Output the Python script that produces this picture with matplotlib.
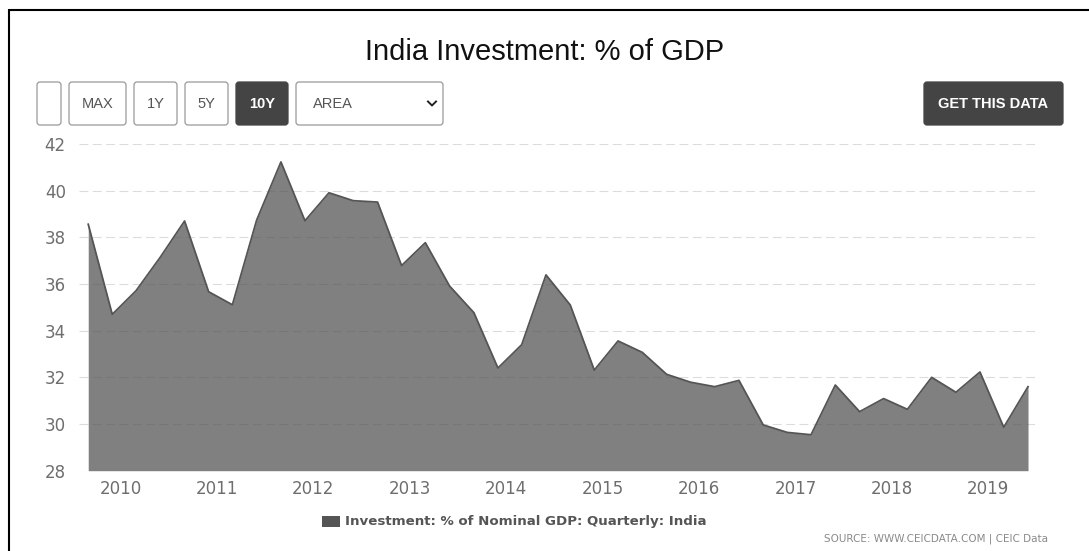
import datetime as dt

import matplotlib
matplotlib.use("Agg")
import matplotlib.pyplot as plt
import matplotlib.dates as mdates
from matplotlib.patches import FancyBboxPatch, Rectangle
import pandas as pd

# Quarterly investment share of nominal GDP, India (Sep 2009 - Jun 2019)
quarters = pd.date_range("2009-09-01", periods=40, freq="3MS")
investment_pct = [
    38.56, 34.70, 35.71, 37.15, 38.70, 35.67, 35.11, 38.74,
    41.23, 38.71, 39.91, 39.57, 39.51, 36.79, 37.77, 35.91,
    34.77, 32.40, 33.40, 36.39, 35.10, 32.31, 33.56, 33.07,
    32.13, 31.79, 31.60, 31.87, 29.96, 29.64, 29.54, 31.67,
    30.53, 31.09, 30.63, 32.00, 31.36, 32.23, 29.86, 31.60,
]
year_ticks = list(range(2010, 2020))
y_ticks = [28, 30, 32, 34, 36, 38, 40, 42]
range_buttons = ["", "MAX", "1Y", "5Y", "10Y"]

title = "India Investment: % of GDP"
series_name = "Investment: % of Nominal GDP: Quarterly: India"
source_note = "SOURCE: WWW.CEICDATA.COM | CEIC Data"

W, H = 1089, 551
SERIES = "#555555"
fig = plt.figure(figsize=(W / 100, H / 100), dpi=100)

# overlay in pixel coordinates for the page furniture
ov = fig.add_axes([0, 0, 1, 1], zorder=0)
ov.set_xlim(0, W)
ov.set_ylim(H, 0)
ov.axis("off")

# frame lines along the top and left edge
ov.plot([8.5, W], [9.5, 9.5], color="black", lw=1.5, solid_capstyle="butt")
ov.plot([9, 9], [9, H], color="black", lw=1.5, solid_capstyle="butt")

ov.text(544.5, 52, title, ha="center", va="center", fontsize=21,
        family="Liberation Sans", color="#111111")

# range selector buttons
btn_x = [37, 69, 134, 185, 236]
btn_w = [24, 57, 43, 43, 52]
for label, bx, bw in zip(range_buttons, btn_x, btn_w):
    active = label == "10Y"
    ov.add_patch(FancyBboxPatch((bx, 82), bw, 43,
                                boxstyle="round,pad=0,rounding_size=3",
                                facecolor="#444444" if active else "white",
                                edgecolor="#444444" if active else "#999999",
                                lw=0.9))
    ov.text(bx + bw / 2, 104, label, ha="center", va="center",
            fontsize=10.5, family="Liberation Sans",
            color="white" if active else "#555555",
            fontweight="bold" if active else "normal")

# chart type dropdown
ov.add_patch(FancyBboxPatch((296, 82), 147, 43,
                            boxstyle="round,pad=0,rounding_size=3",
                            facecolor="white", edgecolor="#999999", lw=0.9))
ov.text(313, 104, "AREA", ha="left", va="center", fontsize=10.5,
        family="Liberation Sans", color="#555555")
ov.plot([428, 432, 436], [101.5, 105.5, 101.5], color="#222222", lw=1.4)

# download button
ov.add_patch(FancyBboxPatch((924, 82), 139, 43,
                            boxstyle="round,pad=0,rounding_size=3",
                            facecolor="#444444", edgecolor="#444444", lw=0.9))
ov.text(993.5, 104, "GET THIS DATA", ha="center", va="center", fontsize=10.5,
        family="Liberation Sans", fontweight="bold", color="white")

# legend and source
ov.add_patch(Rectangle((322, 516), 18, 11, facecolor=SERIES, edgecolor="none"))
ov.text(345, 522, series_name, ha="left", va="center", fontsize=9.6,
        fontweight="bold", color="#555555")
ov.text(1048, 539, source_note, ha="right", va="center", fontsize=7.5,
        color="#8a8a8a")

# main area chart
left, right, top, bottom = 79, 1037, 144, 470.7
ax = fig.add_axes([left / W, 1 - bottom / H, (right - left) / W, (bottom - top) / H],
                  zorder=1)
ax.set_facecolor("none")

ax.fill_between(quarters, investment_pct, 28, color=SERIES, alpha=0.75,
                lw=0)
ax.plot(quarters, investment_pct, color=SERIES, lw=1.3)

ax.set_ylim(28, 42)
ax.set_xlim(dt.date(2009, 7, 28), dt.date(2019, 7, 5))
ax.set_yticks(y_ticks)
ax.set_xticks([dt.date(y, 1, 1) for y in year_ticks])
ax.xaxis.set_major_formatter(mdates.DateFormatter("%Y"))

ax.grid(axis="y", color="#dcdcdc", lw=0.8, linestyle=(0, (8, 4)))
ax.set_axisbelow(True)
for s in ax.spines.values():
    s.set_visible(False)
ax.tick_params(axis="both", length=0, labelsize=12, labelcolor="#6e6e6e")
ax.tick_params(axis="y", pad=9.5)
ax.tick_params(axis="x", pad=6.5)

fig.savefig("out.png", dpi=100)
